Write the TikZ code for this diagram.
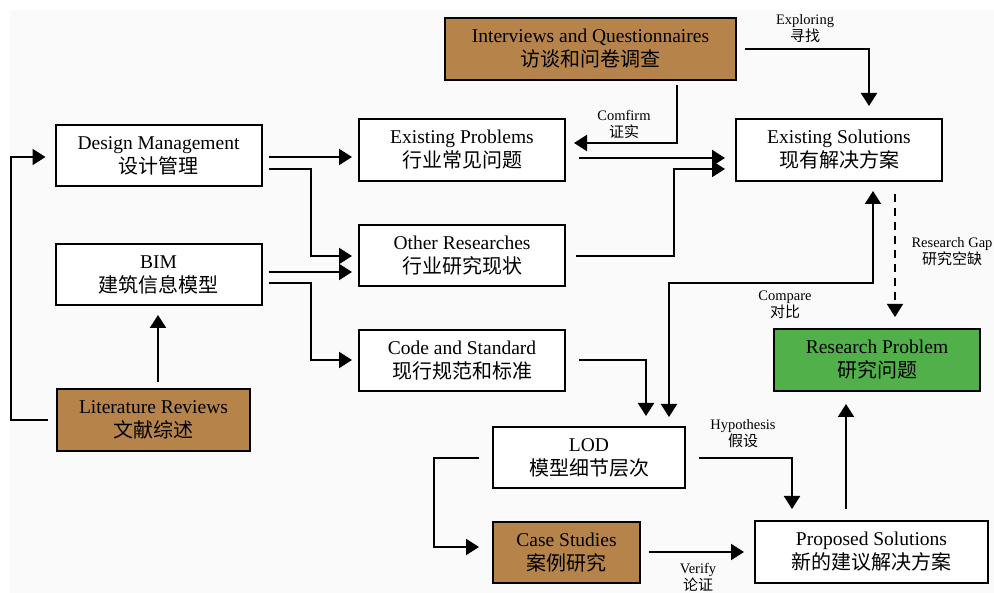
\documentclass[tikz,border=0pt]{standalone}
\usepackage{fontspec}
\setmainfont{Liberation Serif}
\newfontfamily\cjk{Noto Sans CJK SC}
\usetikzlibrary{arrows.meta}
\definecolor{bgc}{HTML}{FAFAFA}
\definecolor{brownbox}{HTML}{B6844A}
\definecolor{greenbox}{HTML}{52B04A}
\newcommand{\zh}[1]{{\cjk\fontsize{20}{24}\selectfont #1}}
\newcommand{\zs}[1]{{\cjk\fontsize{15}{17}\selectfont #1}}
\tikzset{
  box/.style={draw=black, line width=2pt, fill=white, minimum width=206pt, minimum height=61pt,
    inner sep=0pt, align=center, font=\fontsize{19.5}{24}\selectfont},
  brownfill/.style={fill=brownbox},
  greenfill/.style={fill=greenbox},
  arr/.style={line width=2pt, -{Triangle[length=13pt,width=16pt]}, shorten >=9pt, shorten <=8pt},
  darr/.style={line width=2pt, {Triangle[length=13pt,width=16pt]}-{Triangle[length=13pt,width=16pt]}, shorten >=9pt, shorten <=9pt},
  lbl/.style={inner sep=0pt, align=center, font=\fontsize{14.5}{17}\selectfont},
}
\begin{document}
\begin{tikzpicture}[x=1pt,y=-1pt]
\useasboundingbox (0,0) rectangle (994,593);
\fill[white] (0,0) rectangle (994,593);
\fill[bgc] (10,10) rectangle (994,593);

% boxes
\node[box] (DM) at (158.5,155.5) {Design Management\\\zh{设计管理}};
\node[box] (BIM) at (158.5,274.5) {BIM\\\zh{建筑信息模型}};
\node[box, brownfill, minimum width=193pt, minimum height=62pt] (LIT) at (153.5,420) {Literature Reviews\\\zh{文献综述}};
\node[box, minimum height=62pt] (EP) at (462,150) {Existing Problems\\\zh{行业常见问题}};
\node[box] (OR) at (462,255.5) {Other Researches\\\zh{行业研究现状}};
\node[box] (CS) at (462,360.5) {Code and Standard\\\zh{现行规范和标准}};
\node[box, brownfill, minimum width=291pt, minimum height=62pt] (INT) at (590.5,49) {Interviews and Questionnaires\\\zh{访谈和问卷调查}};
\node[box, minimum height=62pt] (ES) at (839,150) {Existing Solutions\\\zh{现有解决方案}};
\node[box, greenfill, minimum height=62pt] (RP) at (877,360) {Research Problem\\\zh{研究问题}};
\node[box, minimum width=192pt] (LOD) at (589,457.5) {LOD\\\zh{模型细节层次}};
\node[box, brownfill, minimum width=147pt] (CASE) at (566.5,552.5) {Case Studies\\\zh{案例研究}};
\node[box, minimum width=233pt, minimum height=62pt] (PS) at (871.5,552) {Proposed Solutions\\\zh{新的建议解决方案}};

% connectors
\draw[arr] (LIT.west) -- (11,420) -- (11,157) -- (DM.west |- 0,157);
\draw[arr, shorten <=6pt] (LIT.north -| 158,0) -- (BIM.south -| 158,0);
\draw[arr, shorten <=6pt, shorten >=6pt] (DM.east |- 0,157) -- (EP.west |- 0,157);
\draw[arr, shorten <=6pt, shorten >=6pt] (DM.east |- 0,169) -- (311,169) -- (311,256) -- (OR.west |- 0,256);
\draw[arr, shorten <=6pt, shorten >=6pt] (BIM.east |- 0,272) -- (OR.west |- 0,272);
\draw[arr, shorten <=6pt, shorten >=6pt] (BIM.east |- 0,283) -- (311,283) -- (311,360) -- (CS.west |- 0,360);
\draw[arr, shorten <=13pt, shorten >=10pt] (EP.east |- 0,158) -- (ES.west |- 0,158);
\draw[arr, shorten <=10pt, shorten >=10pt] (OR.east |- 0,256) -- (674,256) -- (674,169) -- (ES.west |- 0,169);
\draw[arr, shorten <=4pt, shorten >=8pt] (INT.south -| 677,0) -- (677,143) -- (EP.east |- 0,143);
\draw[arr, shorten >=12pt] (INT.east |- 0,49) -- (869,49) -- (ES.north -| 869,0);
\draw[line width=1.6pt, dash pattern=on 8pt off 6pt, -{Triangle[length=13pt,width=16pt]}, shorten <=12pt, shorten >=11pt] (ES.south -| 895,0) -- (RP.north -| 895,0);
\draw[arr, shorten <=13pt, shorten >=10pt] (CS.east |- 0,360) -- (646,360) -- (LOD.north -| 646,0);
\draw[darr] (LOD.north -| 669,0) -- (669,283) -- (873,283) -- (ES.south -| 873,0);
\draw[arr, shorten <=13pt, shorten >=13pt] (LOD.west |- 0,458) -- (434,458) -- (434,547) -- (CASE.west |- 0,547);
\draw[arr, shorten <=13pt, shorten >=11pt] (LOD.east |- 0,458) -- (792,458) -- (PS.north -| 792,0);
\draw[arr, shorten >=10pt] (CASE.east |- 0,552) -- (PS.west |- 0,552);
\draw[arr, shorten <=11pt, shorten >=12pt] (PS.north -| 846,0) -- (RP.south -| 846,0);

% labels
\node[lbl] (LEXP) at (805,29) {Exploring\\\zs{寻找}};
\node[lbl] (LCON) at (624,124) {Comfirm\\\zs{证实}};
\node[lbl] (LGAP) at (952,252) {Research Gap\\\zs{研究空缺}};
\node[lbl] (LCMP) at (785,305) {Compare\\\zs{对比}};
\node[lbl] (LHYP) at (743,434) {Hypothesis\\\zs{假设}};
\node[lbl] (LVER) at (698,577) {Verify\\\zs{论证}};
\end{tikzpicture}
\end{document}
